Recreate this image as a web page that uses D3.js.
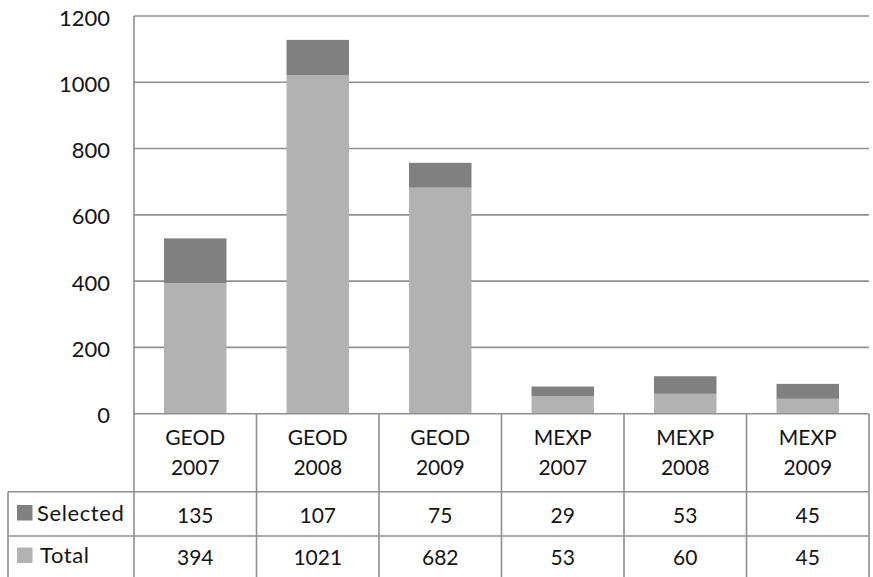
<!DOCTYPE html>
<html>
<head>
<meta charset="utf-8">
<script src="https://cdn.jsdelivr.net/npm/d3@7"></script>
<style>
  html, body { margin: 0; padding: 0; background: #fff; }
  svg { display: block; }
  text { font-family: Lato, "Open Sans", sans-serif; fill: #141414; }
</style>
</head>
<body>
<svg id="chart" width="873" height="577"></svg>
<script>
// Experiment counts per source and year
const categories = ["GEOD 2007", "GEOD 2008", "GEOD 2009", "MEXP 2007", "MEXP 2008", "MEXP 2009"];
const selected = [135, 107, 75, 29, 53, 45];
const total = [394, 1021, 682, 53, 60, 45];
const yTicks = [0, 200, 400, 600, 800, 1000, 1200];
const seriesNames = ["Selected", "Total"];

const colors = { Selected: "#808080", Total: "#b2b2b2" };
const gridColor = "#8f8f8f";

const svg = d3.select("#chart");
const plotLeft = 134, plotRight = 869, plotTop = 16, plotBottom = 413.7;
const tableLeft = 8;
const rowHeader = 491.7, rowSel = 536, rowEnd = 577;

const x = d3.scaleBand().domain(categories).range([plotLeft, plotRight]).padding(0);
const xBar = d3.scaleBand().domain(categories).range([plotLeft, plotRight])
  .paddingInner(0.49).paddingOuter(0.245);
const y = d3.scaleLinear().domain([0, 1200]).range([plotBottom, plotTop]);

// Horizontal gridlines
svg.append("g").selectAll("line").data(yTicks.filter(d => d > 0)).join("line")
  .attr("x1", plotLeft).attr("x2", plotRight)
  .attr("y1", d => y(d)).attr("y2", d => y(d))
  .attr("stroke", gridColor).attr("stroke-width", 1.6);

// Y tick labels
svg.append("g").selectAll("text").data(yTicks).join("text")
  .attr("x", 110).attr("y", d => y(d) + 1)
  .attr("text-anchor", "end").attr("dominant-baseline", "central")
  .attr("font-size", 22).text(d => d);

// Stacked bars: Total at the bottom, Selected on top
const rows = categories.map((c, i) => ({ cat: c, Total: total[i], Selected: selected[i] }));
const stack = d3.stack().keys(["Total", "Selected"])(rows);
svg.append("g").selectAll("g").data(stack).join("g")
  .attr("fill", d => colors[d.key])
  .selectAll("rect").data(d => d).join("rect")
  .attr("x", d => xBar(d.data.cat))
  .attr("width", xBar.bandwidth())
  .attr("y", d => y(d[1]))
  .attr("height", d => y(d[0]) - y(d[1]));

// Data table grid
const g = svg.append("g").attr("stroke", gridColor).attr("stroke-width", 1.6);
g.append("line").attr("x1", plotLeft).attr("x2", plotRight).attr("y1", plotBottom).attr("y2", plotBottom);
g.append("line").attr("x1", tableLeft).attr("x2", plotRight).attr("y1", rowHeader).attr("y2", rowHeader);
g.append("line").attr("x1", tableLeft).attr("x2", plotRight).attr("y1", rowSel).attr("y2", rowSel);
g.append("line").attr("x1", plotLeft).attr("x2", plotLeft).attr("y1", plotTop).attr("y2", rowEnd);
g.append("line").attr("x1", tableLeft).attr("x2", tableLeft).attr("y1", rowHeader).attr("y2", rowEnd);
g.selectAll("line.col").data(categories).join("line").attr("class", "col")
  .attr("x1", d => x(d) + x.bandwidth()).attr("x2", d => x(d) + x.bandwidth())
  .attr("y1", plotBottom).attr("y2", rowEnd);

// Category labels (two lines)
const cat = svg.append("g").selectAll("text").data(categories).join("text")
  .attr("text-anchor", "middle").attr("font-size", 21);
cat.append("tspan").attr("x", d => x(d) + x.bandwidth() / 2).attr("y", 445).text(d => d.split(" ")[0]);
cat.append("tspan").attr("x", d => x(d) + x.bandwidth() / 2).attr("y", 475).text(d => d.split(" ")[1]);

// Table values
const tableRows = [
  { name: "Selected", values: selected, yc: 514 },
  { name: "Total", values: total, yc: 556 }
];
tableRows.forEach(r => {
  svg.append("g").selectAll("text").data(r.values).join("text")
    .attr("x", (d, i) => x(categories[i]) + x.bandwidth() / 2)
    .attr("y", r.yc).attr("dominant-baseline", "central")
    .attr("text-anchor", "middle").attr("font-size", 21).text(d => d);
});

// Legend keys inside the table
const legY = { Selected: 512, Total: 554.5 };
seriesNames.forEach(n => {
  svg.append("rect").attr("x", 17).attr("y", legY[n] - 7)
    .attr("width", 15.5).attr("height", 15.5).attr("fill", colors[n]);
  svg.append("text").attr("x", n === "Selected" ? 37 : 40).attr("y", legY[n])
    .attr("dominant-baseline", "central").attr("font-size", 22)
    .attr("letter-spacing", 0.6).text(n);
});
</script>
</body>
</html>
